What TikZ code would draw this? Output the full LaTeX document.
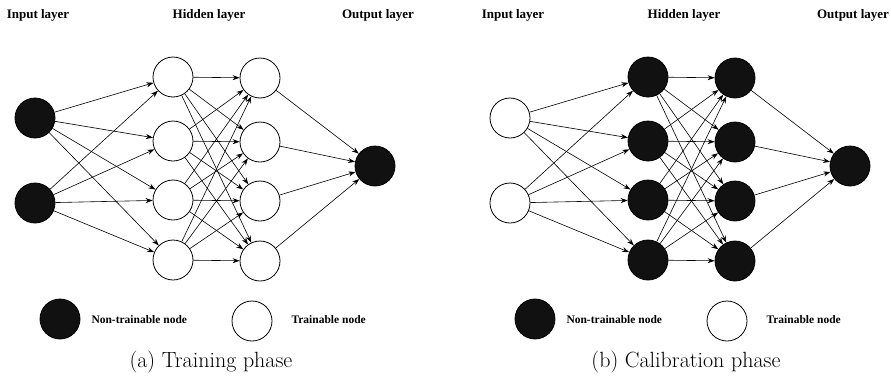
\documentclass[tikz,border=0pt]{standalone}
\usepackage{fontspec}
\newfontfamily\labelfont{Liberation Serif}
\usetikzlibrary{arrows.meta}
\definecolor{nodeblack}{HTML}{111111}
\tikzset{
  neuron/.style={circle, draw=black, line width=0.8pt, minimum size=40pt, inner sep=0pt},
  fixednode/.style={neuron, fill=nodeblack},
  trainnode/.style={neuron, fill=white},
  link/.style={-{Stealth[length=7pt,width=5pt]}, line width=0.6pt},
  layertext/.style={font=\labelfont\bfseries\fontsize{13}{15}\selectfont},
  legendtext/.style={font=\labelfont\bfseries\fontsize{11.5}{13}\selectfont, anchor=west},
  captiontext/.style={font=\fontsize{22}{26}\selectfont}
}
\begin{document}
\begin{tikzpicture}[x=1pt, y=-1pt]
\useasboundingbox (0,0) rectangle (891,375);

% one panel per phase: (a) training, (b) calibration
\foreach \p/\dx/\instyle/\hidstyle/\cap in
    {a/0/fixednode/trainnode/{(a) Training phase},
     b/475/trainnode/fixednode/{(b) Calibration phase}} {
  \begin{scope}[xshift=\dx pt]
    \node[layertext] (lin\p)  at (38, 15)  {Input layer};
    \node[layertext] (lhid\p) at (209, 15) {Hidden layer};
    \node[layertext] (lout\p) at (378, 15) {Output layer};

    \foreach \y [count=\i] in {118, 203}
      \node[\instyle] (in\p\i) at (35, \y) {};
    \foreach \y [count=\j] in {77, 141, 200, 260} {
      \node[\hidstyle] (ha\p\j) at (173, \y) {};
      \node[\hidstyle] (hb\p\j) at (260, \y + 1) {};
    }
    \node[fixednode] (out\p) at (375, 166) {};

    \foreach \i in {1,2}
      \foreach \j in {1,...,4}
        \draw[link] (in\p\i) -- (ha\p\j);
    \foreach \i in {1,...,4} {
      \foreach \j in {1,...,4}
        \draw[link] (ha\p\i) -- (hb\p\j);
      \draw[link] (hb\p\i) -- (out\p);
    }

    % legend
    \node[fixednode] (keyfix\p) at (60, 319) {};
    \node[legendtext] (txtfix\p) at (88, 320) {Non-trainable node};
    \node[trainnode] (keytrain\p) at (252, 321) {};
    \node[legendtext] (txttrain\p) at (288, 320) {Trainable node};

    \node[captiontext] (cap\p) at (211, 362) {\cap};
  \end{scope}
}
\end{tikzpicture}
\end{document}
